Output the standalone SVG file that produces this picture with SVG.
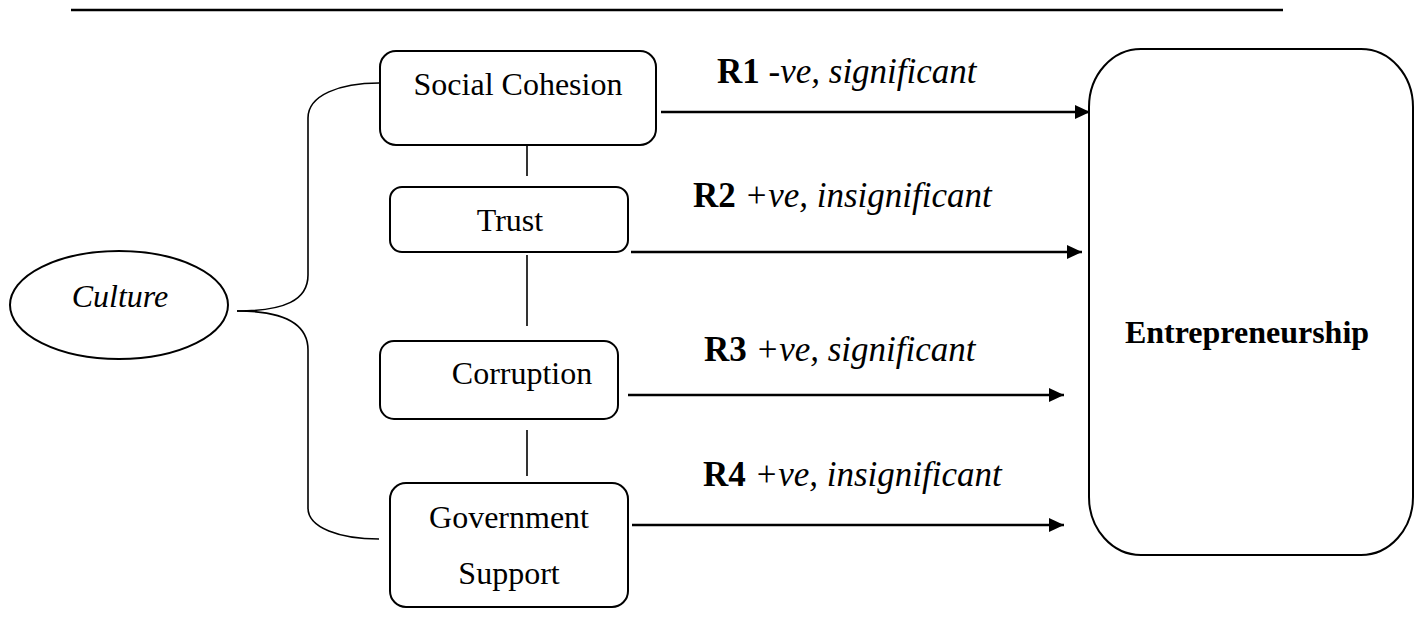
<svg xmlns="http://www.w3.org/2000/svg" width="1421" height="637" viewBox="0 0 1421 637">
<style>
.box{fill:#fff;stroke:#000;stroke-width:2}
.t{font-family:"Liberation Serif","Times New Roman",serif;font-size:32px;fill:#000}
.lbl{font-family:"Liberation Serif","Times New Roman",serif;font-size:35px;fill:#000}
.b{font-weight:bold}
.i{font-style:italic}
.conn{fill:none;stroke:#000;stroke-width:1.6}
.arr{fill:none;stroke:#000;stroke-width:2.5}
</style>
<defs>
<marker id="ah" markerWidth="16" markerHeight="14" refX="15" refY="7" orient="auto" markerUnits="userSpaceOnUse">
<path d="M0,0 L15,7 L0,14 Z" fill="#000"/>
</marker>
</defs>
<rect width="1421" height="637" fill="#fff"/>
<line x1="71" y1="10" x2="1283" y2="10" stroke="#000" stroke-width="2.5"/>

<g id="connectors">
<path class="conn" d="M237,311 C285,311 308,300 308,275 L308,118 C308,95 340,83 379,83"/>
<path class="conn" d="M237,311 C285,311 308,325 308,350 L308,508 C308,528 340,539 379,539"/>
<line class="conn" x1="527" y1="144" x2="527" y2="176"/>
<line class="conn" x1="527" y1="255" x2="527" y2="326"/>
<line class="conn" x1="527" y1="430" x2="527" y2="476"/>
<line class="arr" x1="661" y1="112" x2="1090" y2="112" marker-end="url(#ah)"/>
<line class="arr" x1="631" y1="252" x2="1082" y2="252" marker-end="url(#ah)"/>
<line class="arr" x1="628" y1="395" x2="1064" y2="395" marker-end="url(#ah)"/>
<line class="arr" x1="632" y1="525" x2="1064" y2="525" marker-end="url(#ah)"/>
<text class="lbl" x="717" y="83"><tspan class="b">R1</tspan> <tspan class="i">-ve, significant</tspan></text>
<text class="lbl" x="693" y="207"><tspan class="b">R2</tspan> <tspan class="i">+ve, insignificant</tspan></text>
<text class="lbl" x="704" y="361"><tspan class="b">R3</tspan> <tspan class="i">+ve, significant</tspan></text>
<text class="lbl" x="703" y="486"><tspan class="b">R4</tspan> <tspan class="i">+ve, insignificant</tspan></text>
</g>

<g id="culture">
<ellipse class="box" cx="119" cy="305" rx="109" ry="54"/>
<text class="t i" x="120" y="307" text-anchor="middle">Culture</text>
</g>

<g id="social-cohesion">
<rect class="box" x="380" y="51" width="276" height="94" rx="16" ry="16"/>
<text class="t" x="518" y="95" text-anchor="middle">Social Cohesion</text>
</g>

<g id="trust">
<rect class="box" x="390" y="187" width="238" height="65" rx="12" ry="12"/>
<text class="t" x="510" y="231" text-anchor="middle">Trust</text>
</g>

<g id="corruption">
<rect class="box" x="380" y="341" width="238" height="78" rx="14" ry="14"/>
<text class="t" x="522" y="384" text-anchor="middle">Corruption</text>
</g>

<g id="government-support">
<rect class="box" x="390" y="483" width="238" height="124" rx="16" ry="16"/>
<text class="t" x="509" y="528" text-anchor="middle">Government</text>
<text class="t" x="509" y="584" text-anchor="middle">Support</text>
</g>

<g id="entrepreneurship">
<rect class="box" x="1089" y="49" width="324" height="506" rx="52" ry="58"/>
<text class="t b" x="1247" y="343" text-anchor="middle">Entrepreneurship</text>
</g>
</svg>
